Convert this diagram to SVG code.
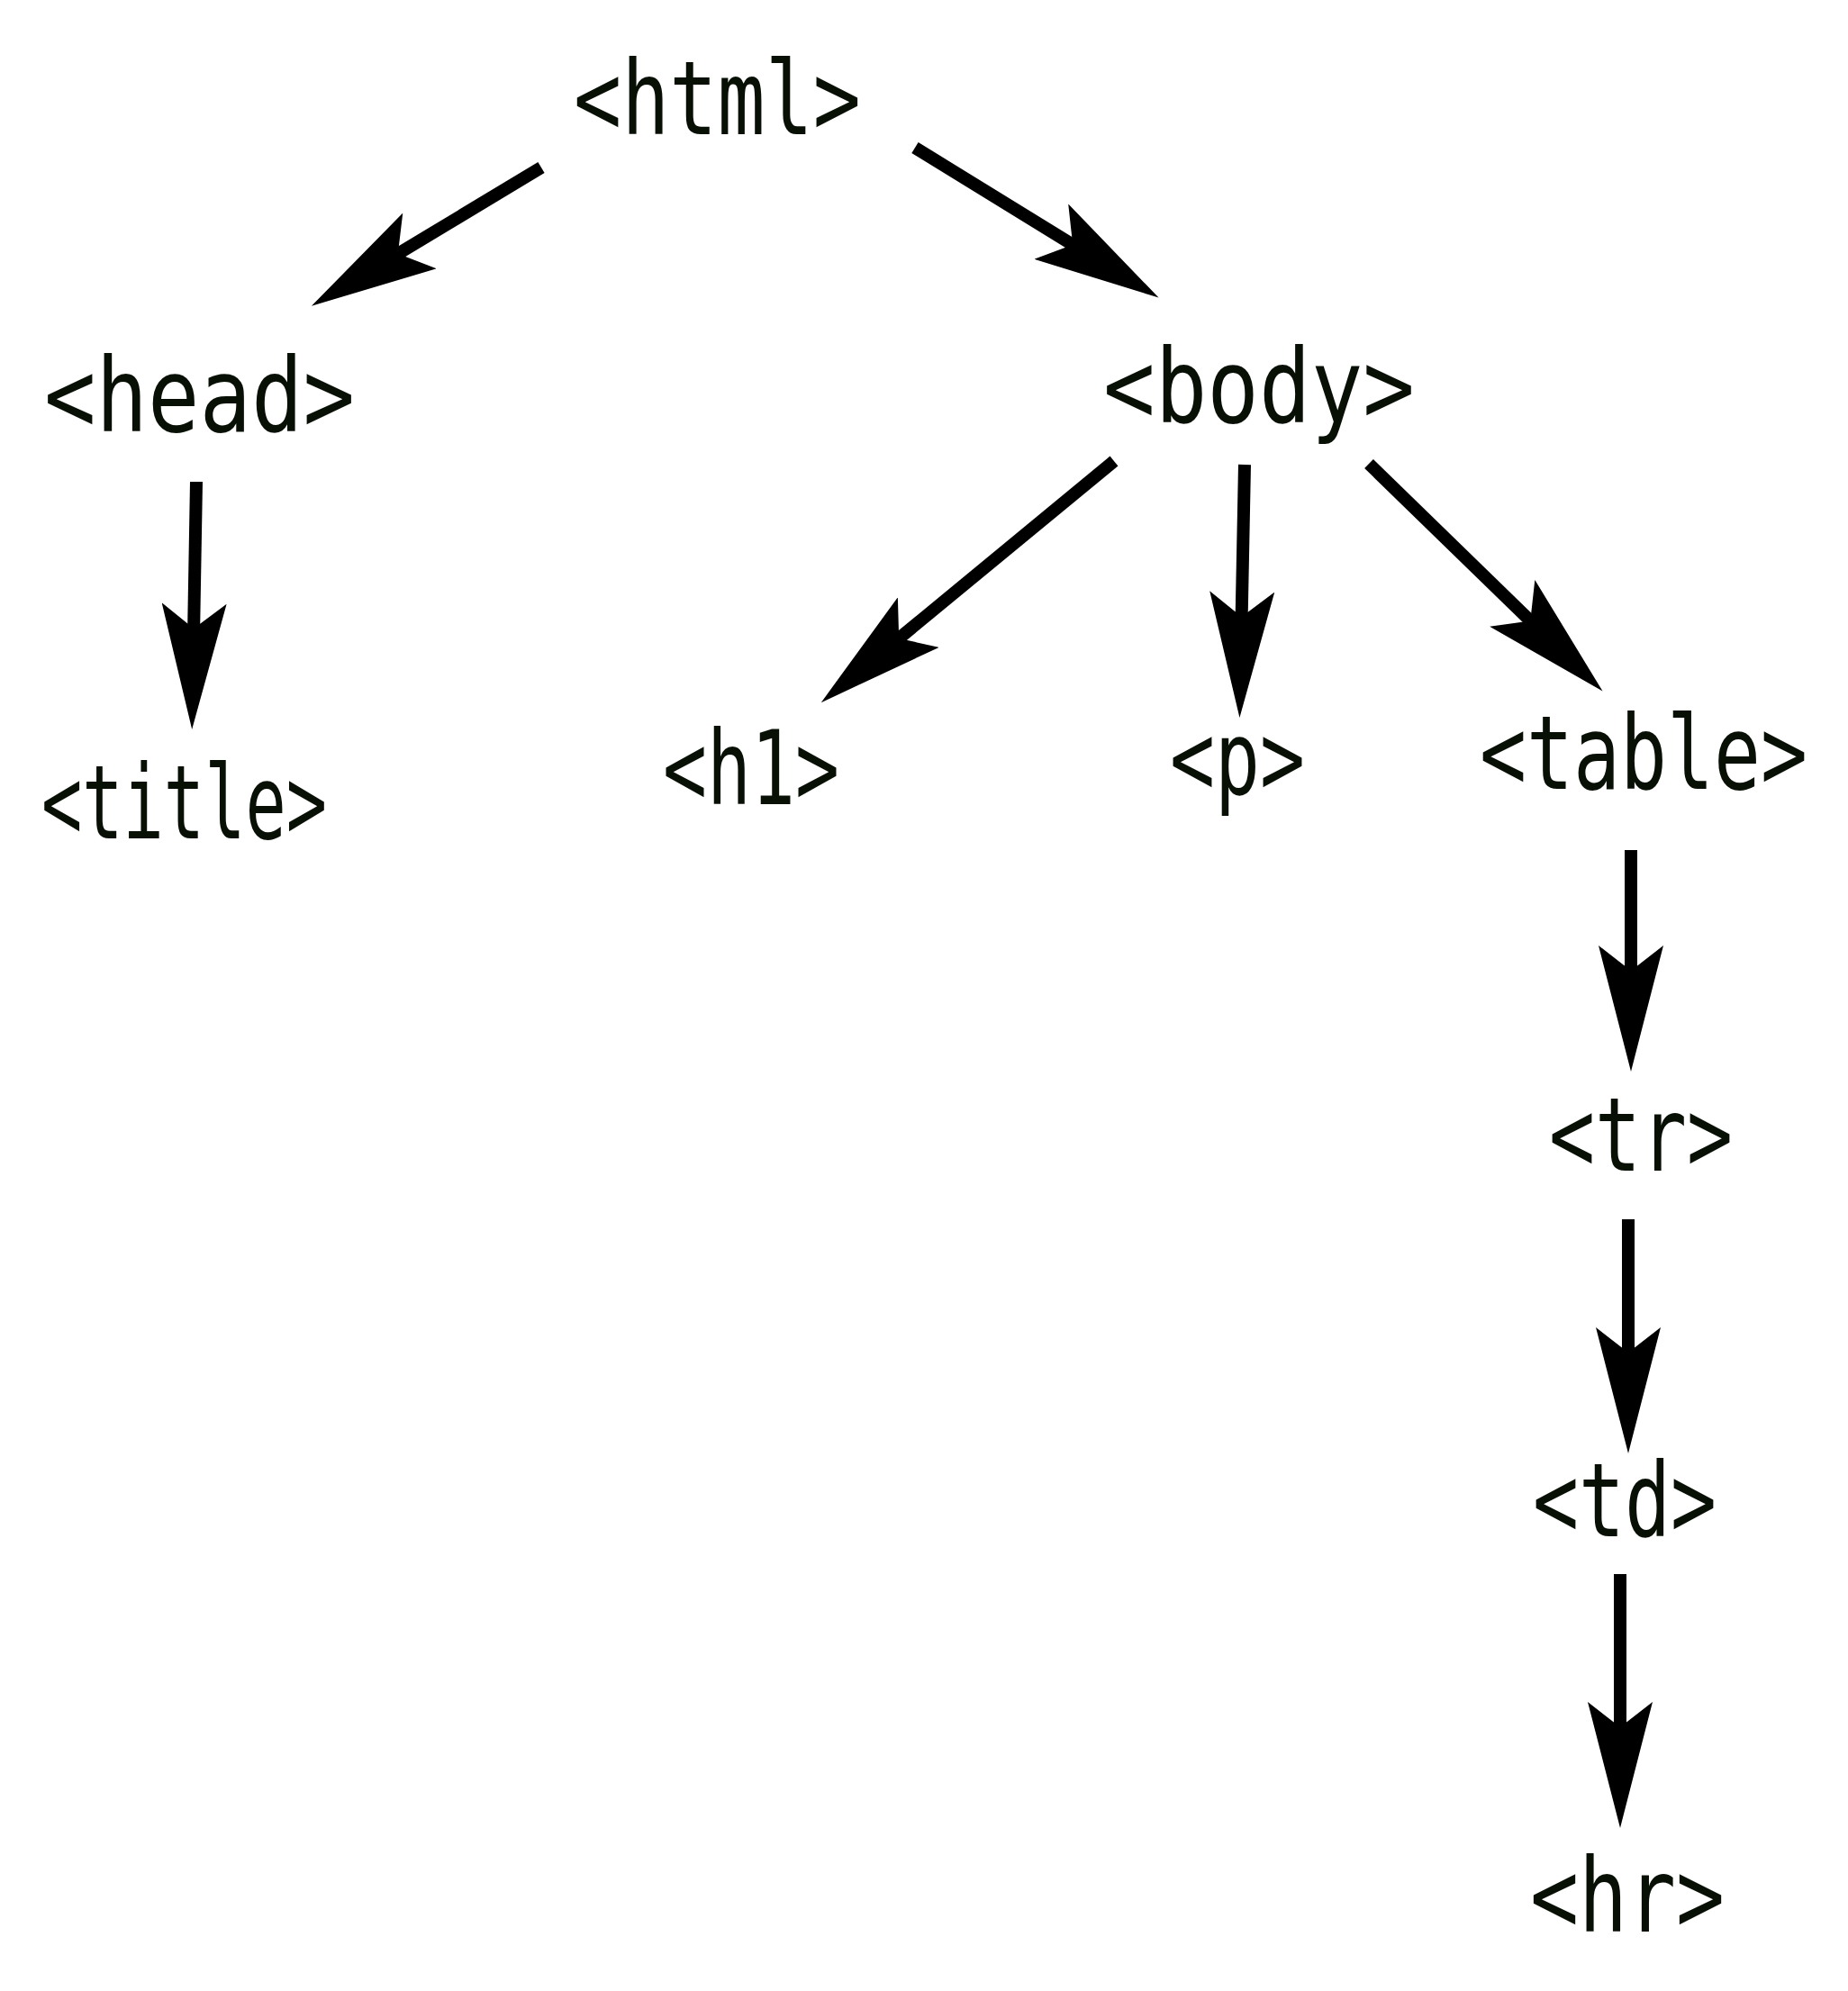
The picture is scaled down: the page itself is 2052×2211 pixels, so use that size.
<svg xmlns="http://www.w3.org/2000/svg" width="2052" height="2211" viewBox="0 0 2052 2211">
<style>
.lbl{font-family:"DejaVu Sans Mono","Liberation Mono",monospace;font-size:114px;fill:#081005;}
.edge{stroke:#000;stroke-width:14;fill:none;stroke-linecap:butt;marker-end:url(#ah);}
</style>
<defs>
<marker id="ah" markerUnits="userSpaceOnUse" viewBox="0 0 140 72" markerWidth="140" markerHeight="72" refX="36" refY="36" orient="auto">
<path d="M140,36 L0,0 L28,36 L0,72 Z" fill="#000"/>
</marker>
</defs>
<rect width="2052" height="2211" fill="#fff"/>
<g id="connectors">
<path class="edge" d="M601,186 L435,286"/>
<path class="edge" d="M1016,164 L1198,276"/>
<path class="edge" d="M218,535 L215,706"/>
<path class="edge" d="M1237,512 L992,714"/>
<path class="edge" d="M1382,516 L1378.5,693"/>
<path class="edge" d="M1520,515 L1705,695"/>
<path class="edge" d="M1811,944 L1811,1086"/>
<path class="edge" d="M1808,1354 L1808,1510"/>
<path class="edge" d="M1799,1748 L1799,1926"/>
</g>
<g id="node-html"><text class="lbl" x="637" y="149" textLength="319" lengthAdjust="spacingAndGlyphs">&lt;html&gt;</text></g>
<g id="node-head"><text class="lbl" x="49" y="479" textLength="345" lengthAdjust="spacingAndGlyphs">&lt;head&gt;</text></g>
<g id="node-body"><text class="lbl" x="1225" y="469" textLength="346" lengthAdjust="spacingAndGlyphs">&lt;body&gt;</text></g>
<g id="node-title"><text class="lbl" x="46" y="931" textLength="317" lengthAdjust="spacingAndGlyphs">&lt;title&gt;</text></g>
<g id="node-h1"><text class="lbl" x="736" y="893" textLength="196" lengthAdjust="spacingAndGlyphs">&lt;h1&gt;</text></g>
<g id="node-p"><text class="lbl" x="1299" y="882" textLength="150" lengthAdjust="spacingAndGlyphs">&lt;p&gt;</text></g>
<g id="node-table"><text class="lbl" x="1643" y="876" textLength="364" lengthAdjust="spacingAndGlyphs">&lt;table&gt;</text></g>
<g id="node-tr"><text class="lbl" x="1720" y="1300" textLength="204" lengthAdjust="spacingAndGlyphs">&lt;tr&gt;</text></g>
<g id="node-td"><text class="lbl" x="1702" y="1706" textLength="204" lengthAdjust="spacingAndGlyphs">&lt;td&gt;</text></g>
<g id="node-hr"><text class="lbl" x="1699" y="2145" textLength="216" lengthAdjust="spacingAndGlyphs">&lt;hr&gt;</text></g>
</svg>
